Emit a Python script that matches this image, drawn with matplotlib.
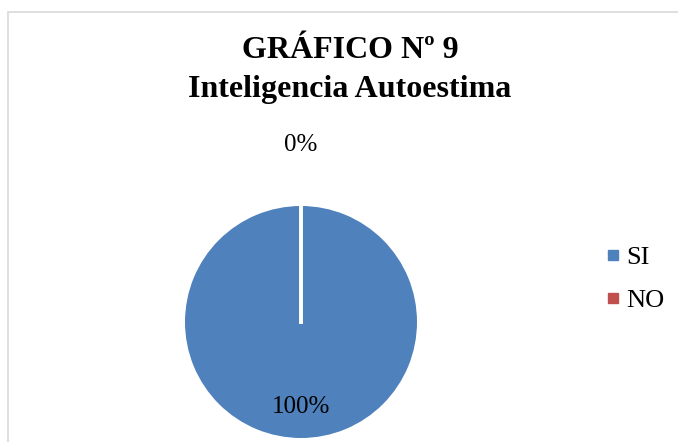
import numpy as np
import matplotlib
matplotlib.use("Agg")
import matplotlib.pyplot as plt
from matplotlib.patches import Rectangle

categories = ["SI", "NO"]
values = [100, 0]
pct_labels = ["100%", "0%"]
title_lines = ["GRÁFICO Nº 9", "Inteligencia Autoestima"]
colors = ["#4F81BD", "#C0504D"]

plt.rcParams['font.family'] = ['Liberation Serif', 'DejaVu Serif']

W, H = 678, 442
fig = plt.figure(figsize=(W / 100, H / 100), dpi=100)

# outer chart frame
fig.patches.append(Rectangle((7.5 / W, -0.1), 1.2, 1 - 12 / H + 0.1,
                             transform=fig.transFigure, fill=False,
                             edgecolor="#d9d9d9", linewidth=1.2))

cx, cy, r = 301 / W, 1 - 322 / H, 116
ax = fig.add_axes([cx - r / W, cy - r / H, 2 * r / W, 2 * r / H])
wedges, _ = ax.pie(values, colors=colors, startangle=90, counterclock=False,
                   radius=1.0, wedgeprops=dict(edgecolor="white", linewidth=0))
ax.set_xlim(-1, 1)
ax.set_ylim(-1, 1)
ax.set_aspect('equal')
ax.axis('off')

# slice boundary (white separator) and percentage labels
total = sum(values)
start = 90.0
for w, v, lab in zip(wedges, values, pct_labels):
    th1, th2 = w.theta1, w.theta2
    mid = np.deg2rad((th1 + th2) / 2)
    frac = v / total
    dist = 0.73 if frac > 0.5 else 1.53
    ax.text(dist * np.cos(mid), dist * np.sin(mid), lab, ha='center', va='center',
            fontsize=18, color='black', clip_on=False)
ang = np.deg2rad(start)
ax.plot([0, np.cos(ang)], [-0.02, np.sin(ang)], color='white', lw=2.8,
        solid_capstyle='butt', zorder=5)

tx = 350 / W
fig.text(tx, 1 - 51 / H, title_lines[0], ha='center', va='center',
         fontsize=23, fontweight='bold')
fig.text(tx, 1 - 90 / H, title_lines[1], ha='center', va='center',
         fontsize=23, fontweight='bold')

handles = [plt.Line2D([], [], marker='s', linestyle='none', markersize=6.5,
                      markerfacecolor=c, markeredgecolor=c) for c in colors]
fig.legend(handles, categories, loc='center left',
           bbox_to_anchor=(605 / W, 1 - 279 / H), frameon=False,
           fontsize=19, handlelength=0.6, handletextpad=0.2, labelspacing=0.75,
           borderpad=0, borderaxespad=0)

fig.savefig("out.png", dpi=100)
